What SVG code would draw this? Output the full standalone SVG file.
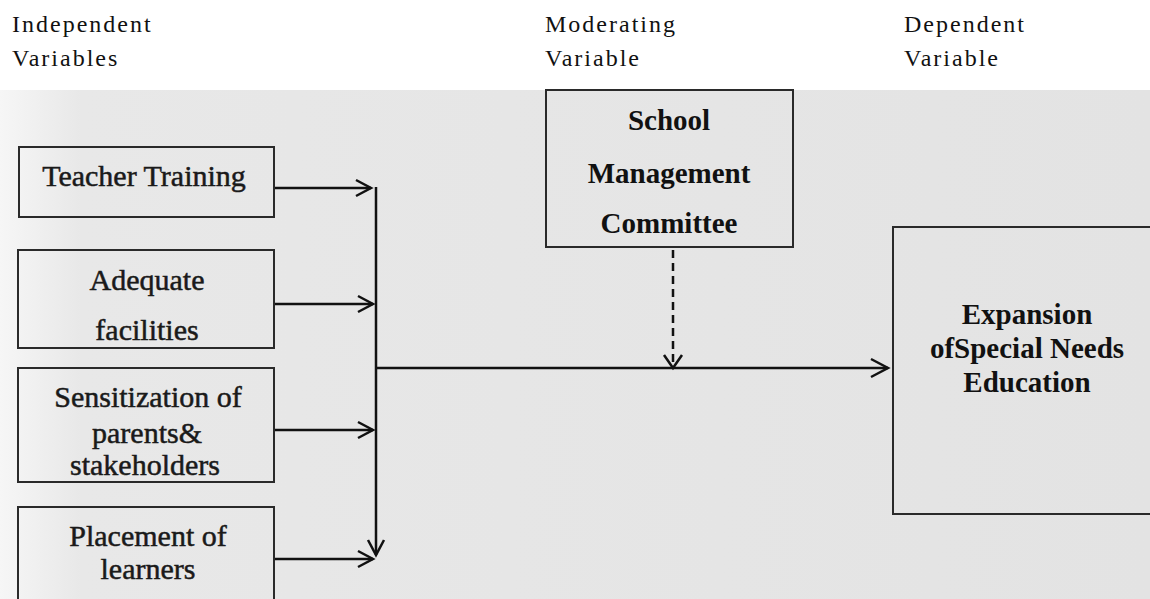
<svg xmlns="http://www.w3.org/2000/svg" width="1150" height="599" viewBox="0 0 1150 599">
<defs>
<linearGradient id="scan" x1="0" y1="0" x2="1" y2="0">
<stop offset="0" stop-color="#f6f6f6"/>
<stop offset="0.07" stop-color="#e8e8e8"/>
<stop offset="1" stop-color="#e3e3e3"/>
</linearGradient>
<marker id="arr" markerUnits="userSpaceOnUse" markerWidth="20" markerHeight="20" refX="15" refY="8" orient="auto" overflow="visible">
<path d="M0,0 L15,8 L0,16" fill="none" stroke="#111" stroke-width="2.5"/>
</marker>
<marker id="arrL" markerUnits="userSpaceOnUse" markerWidth="22" markerHeight="22" refX="17" refY="9" orient="auto" overflow="visible">
<path d="M0,0 L17,9 L0,18" fill="none" stroke="#111" stroke-width="2.5"/>
</marker>
<marker id="arrD" markerUnits="userSpaceOnUse" markerWidth="20" markerHeight="20" refX="13" refY="9" orient="auto" overflow="visible">
<path d="M0,0 L13,9 L0,18" fill="none" stroke="#111" stroke-width="2.5"/>
</marker>
</defs>
<style>
.hdr{font-family:"Liberation Serif","Times New Roman",serif;font-size:24px;letter-spacing:2px;fill:#111}
.box{fill:none;stroke:#2a2a2a;stroke-width:2}
.lbl{font-family:"Liberation Serif","Times New Roman",serif;font-size:30px;fill:#1a1a1a;stroke:#1a1a1a;stroke-width:0.5;text-anchor:middle}
.blbl{font-family:"Liberation Serif","Times New Roman",serif;font-size:29px;font-weight:bold;fill:#111;text-anchor:middle}
.con{fill:none;stroke:#111;stroke-width:2.5}
</style>
<rect x="0" y="0" width="1150" height="599" fill="#ffffff"/>
<rect x="0" y="90" width="1150" height="509" fill="url(#scan)"/>

<g id="headers">
<text class="hdr" x="12" y="32">Independent</text>
<text class="hdr" x="12" y="66">Variables</text>
<text class="hdr" x="545" y="32">Moderating</text>
<text class="hdr" x="545" y="66">Variable</text>
<text class="hdr" x="904" y="32">Dependent</text>
<text class="hdr" x="904" y="66">Variable</text>
</g>

<g id="teacher-training">
<rect class="box" x="19" y="147" width="255" height="70"/>
<text class="lbl" x="144" y="186">Teacher Training</text>
</g>
<g id="adequate-facilities">
<rect class="box" x="18" y="250" width="256" height="98"/>
<text class="lbl" x="147" y="290">Adequate</text>
<text class="lbl" x="147" y="340">facilities</text>
</g>
<g id="sensitization">
<rect class="box" x="18" y="368" width="256" height="114"/>
<text class="lbl" x="148" y="407">Sensitization of</text>
<text class="lbl" x="147" y="443">parents&amp;</text>
<text class="lbl" x="145" y="475">stakeholders</text>
</g>
<g id="placement">
<rect class="box" x="18" y="507" width="256" height="110"/>
<text class="lbl" x="148" y="546">Placement of</text>
<text class="lbl" x="148" y="579">learners</text>
</g>
<g id="school-management-committee">
<rect class="box" x="546" y="90" width="247" height="157"/>
<text class="blbl" x="669" y="130">School</text>
<text class="blbl" x="669" y="183">Management</text>
<text class="blbl" x="669" y="233">Committee</text>
</g>
<g id="expansion">
<rect class="box" x="893" y="227" width="270" height="287" stroke-width="2.5"/>
<text class="blbl" x="1027" y="324">Expansion</text>
<text class="blbl" x="1027" y="358">ofSpecial Needs</text>
<text class="blbl" x="1027" y="392">Education</text>
</g>

<g id="connectors">
<line class="con" x1="275" y1="188" x2="371" y2="188" marker-end="url(#arr)"/>
<line class="con" x1="275" y1="304" x2="373" y2="304" marker-end="url(#arr)"/>
<line class="con" x1="275" y1="430" x2="373" y2="430" marker-end="url(#arr)"/>
<line class="con" x1="275" y1="559" x2="373" y2="559" marker-end="url(#arr)"/>
<line class="con" x1="376" y1="187" x2="376" y2="555" marker-end="url(#arr)"/>
<line class="con" x1="376" y1="368" x2="888" y2="368" marker-end="url(#arrL)"/>
<line class="con" x1="673" y1="250" x2="673" y2="368" stroke-dasharray="8,5" marker-end="url(#arrD)"/>
</g>
</svg>
